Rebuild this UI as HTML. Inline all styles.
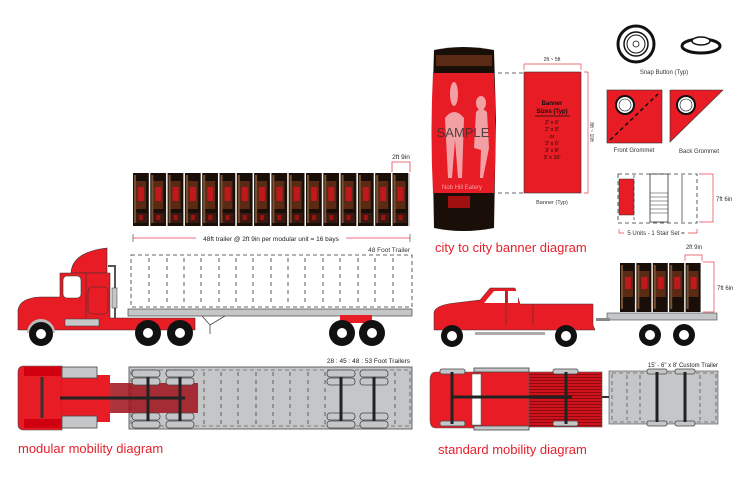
<!DOCTYPE html>
<html><head><meta charset="utf-8"><style>
html,body{margin:0;padding:0;background:#fff}
svg{display:block}
text{font-family:"Liberation Sans",Arial,sans-serif}
</style></head><body>
<svg width="740" height="494" viewBox="0 0 740 494" xmlns="http://www.w3.org/2000/svg">
<defs>
<pattern id="pan" width="17.3" height="53" patternUnits="userSpaceOnUse" x="133" y="173">
<rect width="17.3" height="53" fill="#1a0f08"/>
<rect x="3" y="8" width="10" height="28" fill="#5a2a14"/>
<rect x="5" y="14" width="6" height="14" fill="#c0181c"/>
<rect x="2" y="40" width="12" height="10" fill="#3a1a10"/>
<rect x="6" y="42" width="4" height="5" fill="#a01010"/>
<rect x="1" y="2" width="2" height="48" fill="#7a5030"/>
<rect x="15.8" y="0" width="1.5" height="53" fill="#fff"/>
</pattern>
<pattern id="pan2" width="16.4" height="49" patternUnits="userSpaceOnUse" x="620" y="263">
<rect width="16.4" height="49" fill="#1a0f08"/>
<rect x="3" y="8" width="10" height="26" fill="#5a2a14"/>
<rect x="5" y="14" width="6" height="12" fill="#c0181c"/>
<rect x="1" y="2" width="2" height="44" fill="#7a5030"/>
<rect x="15" y="0" width="1.4" height="49" fill="#fff"/>
</pattern>
<pattern id="stripe" width="4" height="3" patternUnits="userSpaceOnUse">
<rect width="4" height="3" fill="#d0121c"/><rect y="2" width="4" height="1" fill="#8a0a10"/>
</pattern>
</defs>

<!-- modular panels -->
<rect x="133" y="173" width="277" height="53" fill="url(#pan)"/>
<line x1="133" y1="238" x2="410" y2="238" stroke="#e84050" stroke-width="0.8"/>
<line x1="133" y1="234" x2="133" y2="242" stroke="#333" stroke-width="0.6"/>
<line x1="410" y1="234" x2="410" y2="242" stroke="#333" stroke-width="0.6"/>
<rect x="196" y="234" width="150" height="8" fill="#fff"/>
<text x="271" y="241" font-size="6.5" text-anchor="middle" fill="#222">48ft trailer @ 2ft 9in per modular unit = 16 bays</text>
<text x="401" y="159" font-size="6.5" text-anchor="middle" fill="#222">2ft 9in</text>
<path d="M392 172 V162 H410 V172" fill="none" stroke="#e84050" stroke-width="0.8"/>

<!-- semi truck side -->
<text x="410" y="252" font-size="6.5" text-anchor="end" fill="#333">48 Foot Trailer</text>
<rect x="131" y="255" width="281" height="52" fill="none" stroke="#333" stroke-width="0.8" stroke-dasharray="4,3"/>
<g stroke="#333" stroke-width="0.8" stroke-dasharray="4,4">
<line x1="149" y1="258" x2="149" y2="305"/><line x1="167" y1="258" x2="167" y2="305"/><line x1="184" y1="258" x2="184" y2="305"/><line x1="201" y1="258" x2="201" y2="305"/><line x1="219" y1="258" x2="219" y2="305"/><line x1="236" y1="258" x2="236" y2="305"/><line x1="253" y1="258" x2="253" y2="305"/><line x1="271" y1="258" x2="271" y2="305"/><line x1="288" y1="258" x2="288" y2="305"/><line x1="305" y1="258" x2="305" y2="305"/><line x1="323" y1="258" x2="323" y2="305"/><line x1="340" y1="258" x2="340" y2="305"/><line x1="358" y1="258" x2="358" y2="305"/><line x1="375" y1="258" x2="375" y2="305"/><line x1="393" y1="258" x2="393" y2="305"/>
</g>
<rect x="128" y="309" width="284" height="7" fill="#c4c6c8" stroke="#444" stroke-width="0.7"/>
<path d="M202 316 L210 325 L225 316 M210 325 V334" stroke="#444" fill="none" stroke-width="0.8"/>
<rect x="340" y="315" width="32" height="8" fill="#e81c24"/>
<!-- cab -->
<path d="M71 273 Q72 252 107 248 V273 Z" fill="#e81c24" stroke="#333" stroke-width="0.6"/>
<path d="M18 330 V310 Q20 298 40 297 H60 V273 H110 V318 H195 V330 Z" fill="#e81c24" stroke="#333" stroke-width="0.6"/>
<rect x="63" y="276" width="18" height="22" rx="4" fill="#fff" stroke="#333" stroke-width="0.6"/>
<rect x="88" y="287" width="20" height="27" rx="4" fill="none" stroke="#333" stroke-width="0.6"/>
<line x1="86" y1="273" x2="86" y2="318" stroke="#333" stroke-width="0.6"/>
<rect x="65" y="319" width="34" height="7" fill="#c4c6c8" stroke="#333" stroke-width="0.5"/>
<path d="M108 266 H115 V318" stroke="#555" stroke-width="2" fill="none"/>
<rect x="112" y="288" width="5" height="20" fill="#c4c6c8" stroke="#333" stroke-width="0.5"/>
<path d="M29 333 A12 12 0 0 1 53 333" fill="none" stroke="#bbb" stroke-width="4"/>
<g fill="#111"><circle cx="41" cy="334" r="12"/><circle cx="148" cy="333" r="13"/><circle cx="180" cy="333" r="13"/><circle cx="342" cy="333" r="13"/><circle cx="372" cy="333" r="13"/></g>
<g fill="#fff"><circle cx="41" cy="334" r="5"/><circle cx="148" cy="333" r="5"/><circle cx="180" cy="333" r="5"/><circle cx="342" cy="333" r="5"/><circle cx="372" cy="333" r="5"/></g>

<!-- top view left -->
<text x="410" y="363" font-size="6.5" text-anchor="end" fill="#222">28 : 45 : 48 : 53 Foot Trailers</text>
<rect x="129" y="367" width="283" height="62" fill="#c4c6c8" stroke="#444" stroke-width="0.8"/>
<rect x="131" y="370" width="279" height="56" fill="none" stroke="#333" stroke-width="0.6" stroke-dasharray="4,3"/>
<g stroke="#333" stroke-width="0.7" stroke-dasharray="4,4">
<line x1="204" y1="372" x2="204" y2="424"/><line x1="221" y1="372" x2="221" y2="424"/><line x1="238" y1="372" x2="238" y2="424"/><line x1="256" y1="372" x2="256" y2="424"/><line x1="273" y1="372" x2="273" y2="424"/><line x1="290" y1="372" x2="290" y2="424"/><line x1="308" y1="372" x2="308" y2="424"/><line x1="325" y1="372" x2="325" y2="424"/><line x1="395" y1="372" x2="395" y2="424"/>
</g>
<path d="M18 372 Q18 366 24 366 H62 V430 H24 Q18 430 18 424 Z" fill="#e81c24" stroke="#444" stroke-width="0.6"/>
<rect x="24" y="367" width="37" height="9" fill="#d00010"/>
<rect x="24" y="419" width="37" height="9" fill="#d00010"/>
<rect x="62" y="375" width="48" height="47" fill="#e81c24"/>
<rect x="62" y="367" width="35" height="11" fill="#c4c6c8" stroke="#444" stroke-width="0.8"/>
<rect x="62" y="416" width="35" height="12" fill="#c4c6c8" stroke="#444" stroke-width="0.8"/>
<rect x="110" y="383" width="88" height="30" fill="#a0101a" opacity="0.85"/>
<line x1="42" y1="377" x2="42" y2="418" stroke="#333" stroke-width="3"/>
<line x1="60" y1="398" x2="185" y2="398" stroke="#222" stroke-width="3"/>
<g fill="#c4c6c8" stroke="#444" stroke-width="0.8">
<rect x="132" y="370" width="28" height="7" rx="3"/><rect x="132" y="378" width="28" height="7" rx="3"/><rect x="166" y="370" width="28" height="7" rx="3"/><rect x="166" y="378" width="28" height="7" rx="3"/>
<rect x="132" y="413" width="28" height="7" rx="3"/><rect x="132" y="421" width="28" height="7" rx="3"/><rect x="166" y="413" width="28" height="7" rx="3"/><rect x="166" y="421" width="28" height="7" rx="3"/>
<rect x="327" y="370" width="28" height="7" rx="3"/><rect x="327" y="378" width="28" height="7" rx="3"/><rect x="360" y="370" width="28" height="7" rx="3"/><rect x="360" y="378" width="28" height="7" rx="3"/>
<rect x="327" y="413" width="28" height="7" rx="3"/><rect x="327" y="421" width="28" height="7" rx="3"/><rect x="360" y="413" width="28" height="7" rx="3"/><rect x="360" y="421" width="28" height="7" rx="3"/>
</g>
<g stroke="#222" stroke-width="3"><line x1="148" y1="377" x2="148" y2="421"/><line x1="180" y1="377" x2="180" y2="421"/><line x1="341" y1="377" x2="341" y2="421"/><line x1="374" y1="377" x2="374" y2="421"/></g>
<text x="18" y="453" font-size="13" fill="#e8202c">modular mobility diagram</text>

<!-- banner column -->
<path d="M434 50 Q463 44 494 50 L496 120 L494 228 Q463 234 434 228 L432 120 Z" fill="#1a0f08"/>
<rect x="436" y="55" width="56" height="11" fill="#5a2a14"/>
<rect x="448" y="196" width="22" height="12" fill="#a01010"/>
<path d="M433 73 H494 Q497 133 494 193 H433 Q430 133 433 73 Z" fill="#e81c24"/>
<g fill="#f3a0a4">
<ellipse cx="454" cy="94" rx="4" ry="12"/><path d="M445 118 Q454 106 464 118 L462 178 H458 L455 140 L452 178 H448 Z"/>
<ellipse cx="481" cy="103" rx="5" ry="7"/><path d="M476 112 Q481 106 487 112 L489 148 L483 178 H480 L481 150 L474 148 Z"/>
</g>
<text x="463" y="137" font-size="13" text-anchor="middle" fill="#333" opacity="0.85">SAMPLE</text>
<text x="462" y="189" font-size="6" text-anchor="middle" fill="#f3a0a4" font-family="Liberation Serif">Nob Hill Eatery</text>
<line x1="498" y1="73" x2="524" y2="73" stroke="#333" stroke-dasharray="4,3" stroke-width="0.8"/>
<line x1="498" y1="193" x2="524" y2="193" stroke="#333" stroke-dasharray="4,3" stroke-width="0.8"/>
<rect x="524" y="72" width="57" height="121" fill="#e81c24" stroke="#333" stroke-width="0.6"/>
<text x="552" y="105" font-size="6" text-anchor="middle" font-weight="bold" fill="#111">Banner</text>
<text x="552" y="113" font-size="6" text-anchor="middle" font-weight="bold" fill="#111">Sizes (Typ)</text>
<line x1="535" y1="116" x2="570" y2="116" stroke="#111" stroke-width="0.8"/>
<g font-size="5.5" text-anchor="middle" fill="#111"><text x="552" y="124">2' x 6'</text><text x="552" y="131">2' x 8'</text><text x="552" y="138">or</text><text x="552" y="145">3' x 6'</text><text x="552" y="152">3' x 8'</text><text x="552" y="159">3' x 10'</text></g>
<path d="M524 70 V64 H581 V70" fill="none" stroke="#e84050" stroke-width="0.7"/>
<text x="552" y="61" font-size="5" text-anchor="middle" fill="#333">2ft ~ 5ft</text>
<path d="M584 72 H588 V193 H584" fill="none" stroke="#e84050" stroke-width="0.7"/>
<text x="590" y="132" font-size="5" text-anchor="middle" fill="#333" transform="rotate(90 590 132)">8ft ~ 10ft</text>
<text x="552" y="204" font-size="5.5" text-anchor="middle" fill="#333">Banner (Typ)</text>
<text x="435" y="252" font-size="13" fill="#e8202c">city to city banner diagram</text>

<!-- snap buttons -->
<circle cx="636" cy="44" r="18" fill="none" stroke="#111" stroke-width="3"/>
<circle cx="636" cy="44" r="12" fill="none" stroke="#111" stroke-width="1.5"/>
<circle cx="636" cy="44" r="9" fill="none" stroke="#111" stroke-width="1"/>
<circle cx="636" cy="44" r="3" fill="none" stroke="#111" stroke-width="0.8"/>
<ellipse cx="701" cy="46" rx="19" ry="7" fill="#fff" stroke="#111" stroke-width="3"/>
<ellipse cx="701" cy="41" rx="9" ry="4" fill="#fff" stroke="#111" stroke-width="1.5"/>
<text x="664" y="74" font-size="6" text-anchor="middle" fill="#333">Snap Button (Typ)</text>
<!-- grommets -->
<rect x="607" y="90" width="55" height="53" fill="#e81c24" stroke="#333" stroke-width="0.6"/>
<line x1="610" y1="140" x2="658" y2="94" stroke="#111" stroke-width="1.5" stroke-dasharray="4,3"/>
<circle cx="625" cy="105" r="9" fill="#fff" stroke="#111" stroke-width="2"/>
<circle cx="625" cy="105" r="6" fill="none" stroke="#111" stroke-width="0.6"/>
<path d="M670 90 H723 L670 142 Z" fill="#e81c24" stroke="#333" stroke-width="0.6"/>
<circle cx="686" cy="105" r="9" fill="#fff" stroke="#111" stroke-width="2"/>
<circle cx="686" cy="105" r="6" fill="none" stroke="#111" stroke-width="0.6"/>
<text x="634" y="152" font-size="6" text-anchor="middle" fill="#333">Front Grommet</text>
<text x="699" y="153" font-size="6" text-anchor="middle" fill="#333">Back Grommet</text>
<!-- stair set -->
<rect x="618" y="174" width="79" height="49" fill="none" stroke="#333" stroke-width="0.8" stroke-dasharray="4,3"/>
<rect x="619" y="179" width="15" height="36" fill="#e81c24" stroke="#333" stroke-width="0.5"/>
<line x1="634" y1="175" x2="634" y2="222" stroke="#333" stroke-dasharray="3,3" stroke-width="0.7"/>
<line x1="682" y1="175" x2="682" y2="222" stroke="#333" stroke-width="0.7"/>
<rect x="650" y="174" width="18" height="48" fill="none" stroke="#333" stroke-width="0.8"/>
<g stroke="#333" stroke-width="0.6"><line x1="650" y1="193" x2="668" y2="193"/><line x1="650" y1="197" x2="668" y2="197"/><line x1="650" y1="201" x2="668" y2="201"/><line x1="650" y1="205" x2="668" y2="205"/><line x1="650" y1="209" x2="668" y2="209"/><line x1="650" y1="213" x2="668" y2="213"/></g>
<path d="M699 174 H713 V222 H699" fill="none" stroke="#e84050" stroke-width="0.7"/>
<text x="716" y="201" font-size="6" fill="#333">7ft 6in</text>
<path d="M619 229 V233 H697 V229" fill="none" stroke="#e84050" stroke-width="0.7"/>
<rect x="624" y="229" width="64" height="8" fill="#fff"/>
<text x="656" y="235" font-size="6" text-anchor="middle" fill="#333">5 Units - 1 Stair Set =</text>

<!-- pickup -->
<path d="M685 261 V255 H702 V261" fill="none" stroke="#e84050" stroke-width="0.7"/>
<text x="694" y="249" font-size="6" text-anchor="middle" fill="#333">2ft 9in</text>
<path d="M703 262 H714 V312 H703" fill="none" stroke="#e84050" stroke-width="0.7"/>
<text x="717" y="290" font-size="6" fill="#333">7ft 6in</text>
<rect x="620" y="263" width="82" height="49" fill="url(#pan2)"/>
<rect x="607" y="313" width="110" height="7" fill="#c4c6c8" stroke="#444" stroke-width="0.6"/>
<rect x="596" y="318" width="14" height="3" fill="#888"/>
<path d="M434 330 V312 Q436 305 455 303 L480 300 L490 288 H515 L520 304 H593 V325 L595 330 Z" fill="#e81c24" stroke="#333" stroke-width="0.5"/>
<path d="M494 291 H505 V303 H484 Z" fill="#fff"/>
<rect x="508" y="291" width="10" height="12" fill="#fff"/>
<line x1="533" y1="304" x2="533" y2="325" stroke="#333" stroke-width="0.5"/>
<line x1="506" y1="291" x2="506" y2="325" stroke="#333" stroke-width="0.5"/>
<rect x="475" y="332" width="70" height="3" fill="#aaa"/>
<g fill="#111"><circle cx="452" cy="336" r="11"/><circle cx="566" cy="336" r="11"/><circle cx="650" cy="335" r="11"/><circle cx="684" cy="335" r="11"/></g>
<g fill="#fff"><circle cx="452" cy="336" r="5"/><circle cx="566" cy="336" r="5"/><circle cx="650" cy="335" r="5"/><circle cx="684" cy="335" r="5"/></g>

<!-- top view right -->
<text x="718" y="367" font-size="6" text-anchor="end" fill="#222">15' - 6" x 8' Custom Trailer</text>
<rect x="609" y="371" width="109" height="53" fill="#c4c6c8" stroke="#444" stroke-width="0.6"/>
<rect x="612" y="373" width="104" height="49" fill="none" stroke="#333" stroke-width="0.6" stroke-dasharray="4,3"/>
<g stroke="#333" stroke-width="0.6" stroke-dasharray="4,3"><line x1="627" y1="375" x2="627" y2="420"/><line x1="640" y1="375" x2="640" y2="420"/><line x1="700" y1="375" x2="700" y2="420"/></g>
<g fill="#c4c6c8" stroke="#444" stroke-width="0.8"><rect x="647" y="369" width="20" height="5" rx="2"/><rect x="675" y="369" width="20" height="5" rx="2"/><rect x="647" y="421" width="20" height="5" rx="2"/><rect x="675" y="421" width="20" height="5" rx="2"/></g>
<g stroke="#222" stroke-width="3"><line x1="657" y1="372" x2="657" y2="422"/><line x1="685" y1="372" x2="685" y2="422"/></g>
<line x1="600" y1="397" x2="609" y2="397" stroke="#333" stroke-width="2"/>
<path d="M436 372 H474 V428 H436 Q430 428 430 420 V380 Q430 372 436 372 Z" fill="#e81c24" stroke="#555" stroke-width="0.6"/>
<rect x="474" y="371" width="55" height="58" fill="#e81c24" stroke="#555" stroke-width="0.6"/>
<rect x="472" y="374" width="9" height="51" fill="#fff" stroke="#555" stroke-width="0.5"/>
<rect x="529" y="372" width="73" height="55" fill="url(#stripe)" stroke="#555" stroke-width="0.6"/>
<g fill="#c4c6c8" stroke="#444" stroke-width="0.8"><rect x="440" y="369" width="25" height="5" rx="2"/><rect x="440" y="421" width="25" height="5" rx="2"/><rect x="553" y="369" width="25" height="5" rx="2"/><rect x="553" y="421" width="25" height="5" rx="2"/><rect x="474" y="368" width="55" height="4"/><rect x="474" y="426" width="55" height="4"/></g>
<g stroke="#222" stroke-width="3"><line x1="452" y1="372" x2="452" y2="424"/><line x1="566" y1="372" x2="566" y2="424"/><line x1="452" y1="397" x2="572" y2="397"/></g>
<text x="438" y="454" font-size="13" fill="#e8202c">standard mobility diagram</text>
</svg>
</body></html>
